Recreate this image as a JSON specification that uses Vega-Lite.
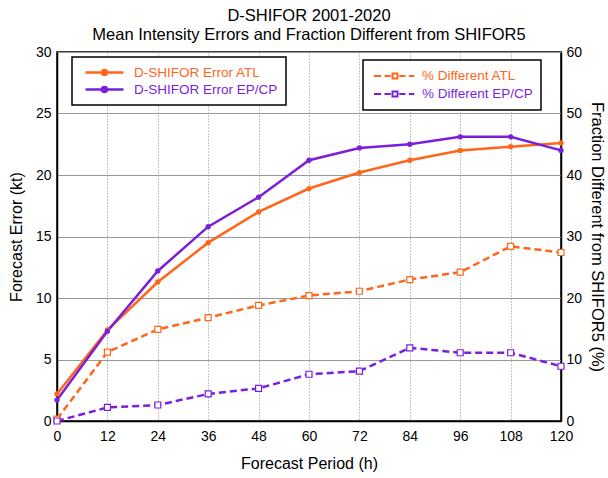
{
  "$schema": "https://vega.github.io/schema/vega-lite/v6.json",
  "width": 504,
  "height": 369,
  "autosize": {"type": "none"},
  "padding": {"left": 57, "top": 52, "right": 47, "bottom": 57},
  "config": {
    "font": "Liberation Sans",
    "view": {"stroke": "black", "strokeWidth": 1.5},
    "axis": {"labelFontSize": 14, "titleFontSize": 16, "titleFontWeight": "normal", "labelColor": "black", "titleColor": "black", "domainColor": "black", "domainWidth": 1.5, "tickColor": "#333", "tickWidth": 1}
  },
  "title": {"text": ["D-SHIFOR 2001-2020", "Mean Intensity Errors and Fraction Different from SHIFOR5"], "fontSize": 16.5, "fontWeight": "normal", "lineHeight": 19, "offset": 2, "anchor": "middle", "color": "black"},
  "datasets": {
    "errors": [
      {"h": 0, "series": "D-SHIFOR Error ATL", "value": 2.2},
      {"h": 12, "series": "D-SHIFOR Error ATL", "value": 7.4},
      {"h": 24, "series": "D-SHIFOR Error ATL", "value": 11.3},
      {"h": 36, "series": "D-SHIFOR Error ATL", "value": 14.5},
      {"h": 48, "series": "D-SHIFOR Error ATL", "value": 17.0},
      {"h": 60, "series": "D-SHIFOR Error ATL", "value": 18.9},
      {"h": 72, "series": "D-SHIFOR Error ATL", "value": 20.2},
      {"h": 84, "series": "D-SHIFOR Error ATL", "value": 21.2},
      {"h": 96, "series": "D-SHIFOR Error ATL", "value": 22.0},
      {"h": 108, "series": "D-SHIFOR Error ATL", "value": 22.3},
      {"h": 120, "series": "D-SHIFOR Error ATL", "value": 22.6},
      {"h": 0, "series": "D-SHIFOR Error EP/CP", "value": 1.7},
      {"h": 12, "series": "D-SHIFOR Error EP/CP", "value": 7.3},
      {"h": 24, "series": "D-SHIFOR Error EP/CP", "value": 12.2},
      {"h": 36, "series": "D-SHIFOR Error EP/CP", "value": 15.8},
      {"h": 48, "series": "D-SHIFOR Error EP/CP", "value": 18.2},
      {"h": 60, "series": "D-SHIFOR Error EP/CP", "value": 21.2},
      {"h": 72, "series": "D-SHIFOR Error EP/CP", "value": 22.2},
      {"h": 84, "series": "D-SHIFOR Error EP/CP", "value": 22.5},
      {"h": 96, "series": "D-SHIFOR Error EP/CP", "value": 23.1},
      {"h": 108, "series": "D-SHIFOR Error EP/CP", "value": 23.1},
      {"h": 120, "series": "D-SHIFOR Error EP/CP", "value": 22.0}
    ],
    "pct": [
      {"h": 0, "series": "% Different ATL", "value": 0.3},
      {"h": 12, "series": "% Different ATL", "value": 11.2},
      {"h": 24, "series": "% Different ATL", "value": 14.9},
      {"h": 36, "series": "% Different ATL", "value": 16.8},
      {"h": 48, "series": "% Different ATL", "value": 18.8},
      {"h": 60, "series": "% Different ATL", "value": 20.4},
      {"h": 72, "series": "% Different ATL", "value": 21.1},
      {"h": 84, "series": "% Different ATL", "value": 23.0},
      {"h": 96, "series": "% Different ATL", "value": 24.2},
      {"h": 108, "series": "% Different ATL", "value": 28.4},
      {"h": 120, "series": "% Different ATL", "value": 27.4},
      {"h": 0, "series": "% Different EP/CP", "value": 0.0},
      {"h": 12, "series": "% Different EP/CP", "value": 2.2},
      {"h": 24, "series": "% Different EP/CP", "value": 2.6},
      {"h": 36, "series": "% Different EP/CP", "value": 4.4},
      {"h": 48, "series": "% Different EP/CP", "value": 5.3},
      {"h": 60, "series": "% Different EP/CP", "value": 7.6},
      {"h": 72, "series": "% Different EP/CP", "value": 8.1},
      {"h": 84, "series": "% Different EP/CP", "value": 11.9},
      {"h": 96, "series": "% Different EP/CP", "value": 11.1},
      {"h": 108, "series": "% Different EP/CP", "value": 11.1},
      {"h": 120, "series": "% Different EP/CP", "value": 8.9}
    ]
  },
  "encoding": {
    "x": {
      "field": "h", "type": "quantitative",
      "scale": {"domain": [0, 120], "nice": false},
      "axis": {"title": "Forecast Period (h)", "values": [0, 12, 24, 36, 48, 60, 72, 84, 96, 108, 120], "grid": true, "gridColor": "#8a8a8a", "gridDash": [1, 2], "gridWidth": 1, "ticks": false, "labelPadding": 8, "titlePadding": 12, "labelFlush": false}
    }
  },
  "layer": [
    {
      "data": {"name": "errors"},
      "encoding": {
        "y": {
          "field": "value", "type": "quantitative",
          "scale": {"domain": [0, 30], "nice": false},
          "axis": {
            "title": "Forecast Error (kt)", "orient": "left",
            "values": [0,1,2,3,4,5,6,7,8,9,10,11,12,13,14,15,16,17,18,19,20,21,22,23,24,25,26,27,28,29,30],
            "labelExpr": "datum.value % 5 === 0 ? datum.label : ''",
            "labelOverlap": false,
            "grid": true, "gridColor": "#999999", "gridWidth": 1.2,
            "gridOpacity": {"condition": {"test": "datum.value % 5 === 0", "value": 1}, "value": 0},
            "tickSize": 0, "labelPadding": 6, "titlePadding": 11,
            "encode": {
              "ticks": {"update": {"x2": {"signal": "datum.value % 5 === 0 ? 7 : 4"}}}
            }
          }
        },
        "color": {
          "field": "series", "type": "nominal",
          "scale": {"domain": ["D-SHIFOR Error ATL", "D-SHIFOR Error EP/CP"], "range": ["#ff661a", "#7b1fdb"]},
          "legend": {
            "title": null, "orient": "none", "legendX": 15, "legendY": 5, "direction": "vertical",
            "padding": 8, "strokeColor": "black", "fillColor": "white",
            "labelFontSize": 13.5,
            "symbolType": "M-1,0L1,0M-0.13,0A0.13,0.13,0,1,1,0.13,0A0.13,0.13,0,1,1,-0.13,0Z",
            "symbolSize": 1444, "symbolStrokeWidth": 2.5, "symbolOffset": 4, "labelOffset": 9,
            "clipHeight": 15, "rowPadding": 2,
            "encode": {
              "legend": {"update": {"strokeWidth": {"value": 1.5}}},
              "symbols": {"update": {
                "fill": {"signal": "indexof(datum.value, 'ATL') >= 0 ? '#ff661a' : '#7b1fdb'"},
                "stroke": {"signal": "indexof(datum.value, 'ATL') >= 0 ? '#ff661a' : '#7b1fdb'"},
                "opacity": {"value": 1}
              }},
              "labels": {"update": {"fill": {"signal": "indexof(datum.value, 'ATL') >= 0 ? '#ff661a' : '#7b1fdb'"}}}
            }
          }
        }
      },
      "layer": [
        {"mark": {"type": "line", "strokeWidth": 2.5}},
        {"mark": {"type": "point", "filled": true, "size": 28, "opacity": 1}}
      ]
    },
    {
      "data": {"name": "pct"},
      "encoding": {
        "y": {
          "field": "value", "type": "quantitative",
          "scale": {"domain": [0, 60], "nice": false},
          "axis": {
            "title": "Fraction Different from SHIFOR5 (%)", "orient": "right",
            "values": [0,2,4,6,8,10,12,14,16,18,20,22,24,26,28,30,32,34,36,38,40,42,44,46,48,50,52,54,56,58,60],
            "labelExpr": "datum.value % 10 === 0 ? datum.label : ''",
            "labelOverlap": false, "titleFontSize": 16.5,
            "grid": false, "tickSize": 0, "labelPadding": 5, "titlePadding": 7,
            "encode": {
              "ticks": {"update": {"x2": {"signal": "datum.value % 10 === 0 ? -7 : -4"}}}
            }
          }
        },
        "color": {
          "field": "series", "type": "nominal",
          "scale": {"domain": ["% Different ATL", "% Different EP/CP"], "range": ["#ff661a", "#7b1fdb"]},
          "legend": {
            "title": null, "orient": "none", "legendX": 306, "legendY": 8, "direction": "vertical",
            "padding": 8, "strokeColor": "black", "fillColor": "white",
            "labelFontSize": 13.5,
            "symbolType": "M-1,0L-0.66,0M-0.5,0L-0.2,0M-0.12,-0.12L0.12,-0.12L0.12,0.12L-0.12,0.12Z M0.2,0L0.5,0M0.66,0L0.92,0",
            "symbolSize": 1764, "symbolStrokeWidth": 2, "symbolOffset": 2, "labelOffset": 5,
            "clipHeight": 16, "rowPadding": 2,
            "encode": {
              "legend": {"update": {"strokeWidth": {"value": 1.5}}},
              "symbols": {"update": {
                "fill": {"value": "white"},
                "stroke": {"signal": "indexof(datum.value, 'ATL') >= 0 ? '#ff661a' : '#7b1fdb'"},
                "opacity": {"value": 1}
              }},
              "labels": {"update": {"fill": {"signal": "indexof(datum.value, 'ATL') >= 0 ? '#ff661a' : '#7b1fdb'"}}}
            }
          }
        }
      },
      "layer": [
        {"mark": {"type": "line", "strokeWidth": 2.5, "strokeDash": [7, 4]}},
        {"mark": {"type": "point", "shape": "square", "filled": false, "fill": "white", "size": 36, "strokeWidth": 1.2, "opacity": 1}}
      ]
    }
  ],
  "resolve": {"scale": {"y": "independent", "color": "independent"}, "axis": {"y": "independent"}, "legend": {"color": "independent"}}
}
